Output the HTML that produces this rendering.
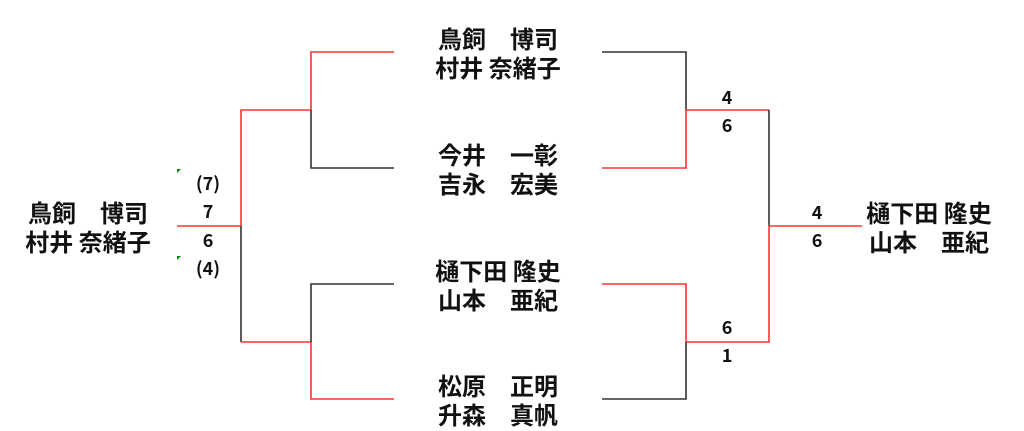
<!DOCTYPE html>
<html><head><meta charset="utf-8"><style>
body{margin:0;width:1024px;height:429px;background:#fff;overflow:hidden;position:relative;font-family:"Liberation Sans","Noto Sans CJK JP",sans-serif;}
.n{position:absolute;font-family:"Noto Sans CJK JP",sans-serif;font-weight:bold;font-size:24px;line-height:29px;white-space:pre;color:#111;text-align:center;width:170px;}
.s{position:absolute;font-family:"Noto Sans CJK JP",sans-serif;font-weight:bold;font-size:18px;line-height:20px;width:40px;text-align:center;color:#111;}
svg{position:absolute;left:0;top:0}
</style></head><body>
<svg width="1024" height="429">
<g stroke-width="1.6" fill="none">
<path d="M177 226H241V110H311V52H394" stroke="#f33"/>
<path d="M311 110V168H394" stroke="#333"/>
<path d="M241 226V342" stroke="#333"/>
<path d="M241 342H311V399H394" stroke="#f33"/>
<path d="M311 342V284H394" stroke="#333"/>
<path d="M602 52H686V110" stroke="#333"/>
<path d="M602 168H686V110H769" stroke="#f33"/>
<path d="M769 110V226" stroke="#333"/>
<path d="M602 284H686V342H769V226H862" stroke="#f33"/>
<path d="M686 342V399H602" stroke="#333"/>
</g>
<path d="M177 169h4l-4 4z" fill="#080"/>
<path d="M177 256h4l-4 4z" fill="#080"/>
</svg>
<div class="n" style="left:413px;top:23px">鳥飼　博司
村井 奈緒子</div>
<div class="n" style="left:413px;top:139px">今井　一彰
吉永　宏美</div>
<div class="n" style="left:413px;top:255px">樋下田 隆史
山本　亜紀</div>
<div class="n" style="left:413px;top:370px">松原　正明
升森　真帆</div>
<div class="n" style="left:3px;top:197px">鳥飼　博司
村井 奈緒子</div>
<div class="n" style="left:844px;top:197px">樋下田 隆史
山本　亜紀</div>
<div class="s" style="left:188px;top:173px">(7)</div>
<div class="s" style="left:188px;top:201px">7</div>
<div class="s" style="left:188px;top:230px">6</div>
<div class="s" style="left:188px;top:258px">(4)</div>
<div class="s" style="left:707px;top:87px">4</div>
<div class="s" style="left:707px;top:115px">6</div>
<div class="s" style="left:707px;top:317px">6</div>
<div class="s" style="left:707px;top:345px">1</div>
<div class="s" style="left:797px;top:202px">4</div>
<div class="s" style="left:797px;top:230px">6</div>
</body></html>
